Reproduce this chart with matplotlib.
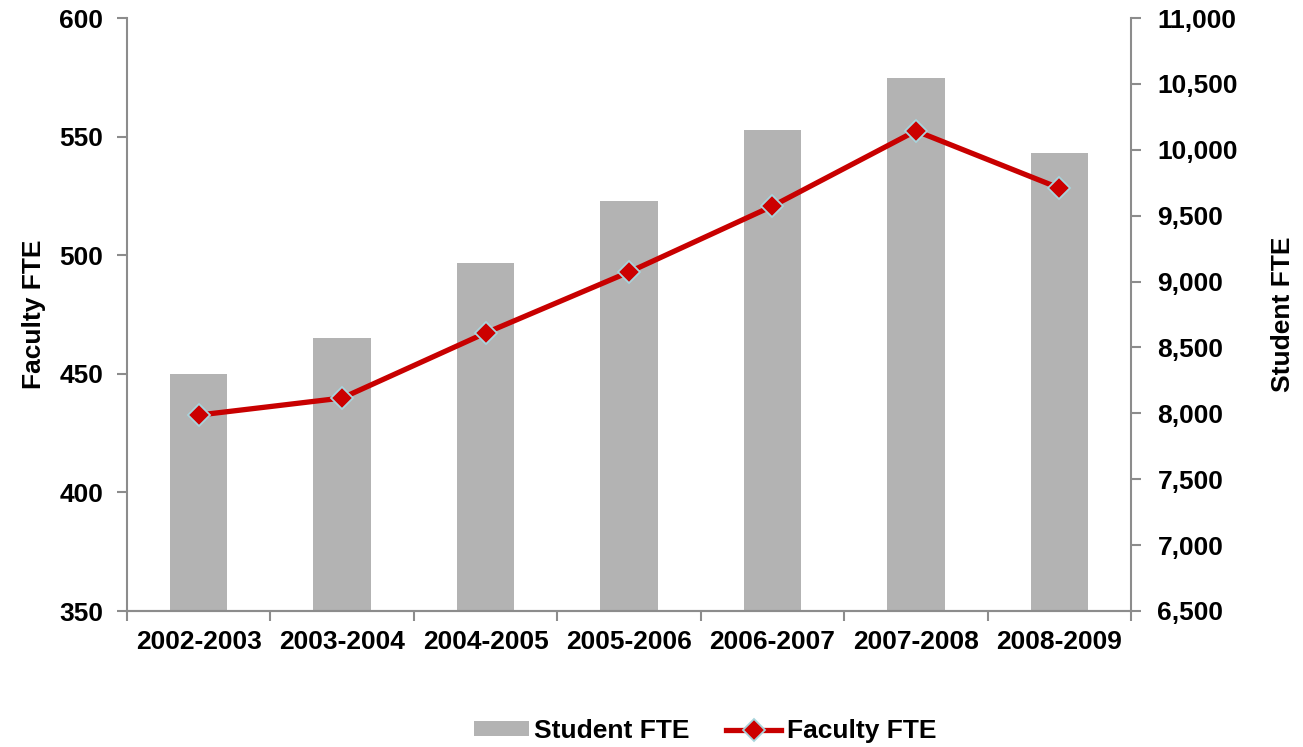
import matplotlib
matplotlib.use("Agg")
import matplotlib.pyplot as plt
from matplotlib.ticker import FuncFormatter, FixedLocator
from matplotlib.patches import Patch
from matplotlib.lines import Line2D

years = ["2002-2003", "2003-2004", "2004-2005", "2005-2006",
         "2006-2007", "2007-2008", "2008-2009"]
student_fte = [8300, 8570, 9140, 9610, 10150, 10545, 9975]
faculty_fte = [432.6, 439.8, 467.2, 492.9, 520.7, 552.4, 528.3]

plt.rcParams['font.family'] = ['Liberation Sans', 'DejaVu Sans']
plt.rcParams['font.weight'] = 'bold'
FS = 19
LFS = 19

fig = plt.figure(figsize=(13.03, 7.47), dpi=100)
ax = fig.add_axes([127/1303, 1-611/747, (1131-127)/1303, (611-18)/747])
ax2 = ax.twinx()

x = list(range(len(years)))
spine_c = '#8c8c8c'
line_c = '#c80000'

ax2.bar(x, student_fte, width=0.40, color='#b3b3b3', zorder=2)
ax.plot(x, faculty_fte, color=line_c, lw=3.8, marker='D', markersize=11.5,
        markerfacecolor='#cc0000', markeredgecolor='#a8d4dc', markeredgewidth=1.3,
        zorder=3)

ax.set_zorder(ax2.get_zorder() + 1)
ax.patch.set_visible(False)

ax.set_xlim(-0.5, 6.5)
ax.set_ylim(350, 600)
ax2.set_ylim(6500, 11000)
ax.set_yticks([350, 400, 450, 500, 550, 600])
ax2.set_yticks(list(range(6500, 11001, 500)))
ax2.yaxis.set_major_formatter(FuncFormatter(lambda v, p: f"{int(v):,}"))

ax.set_xticks(x)
ax.set_xticklabels(years)
ax.xaxis.set_minor_locator(FixedLocator([i - 0.5 for i in range(len(years) + 1)]))
ax.tick_params(axis='x', which='major', length=0, pad=14, labelsize=FS)
ax.tick_params(axis='x', which='minor', length=7, color=spine_c, width=1.5)
ax.tick_params(axis='y', length=7, color=spine_c, width=1.5, labelsize=FS, pad=10)
ax2.tick_params(axis='y', length=7, color=spine_c, width=1.5, labelsize=FS, pad=12)
ax2.tick_params(axis='x', length=0)

for a in (ax, ax2):
    a.spines['top'].set_visible(False)
    for s in ('left', 'right', 'bottom'):
        a.spines[s].set_color(spine_c)
        a.spines[s].set_linewidth(1.5)
ax.spines['right'].set_visible(False)
ax2.spines['left'].set_visible(False)

for lab in ax.get_xticklabels() + ax.get_yticklabels() + ax2.get_yticklabels():
    lab.set_fontweight('bold')

ax.set_ylabel("Faculty FTE", fontsize=FS, fontweight='bold', labelpad=10)
ax2.set_ylabel("Student FTE", fontsize=FS, fontweight='bold', labelpad=24)

handles = [Patch(facecolor='#b3b3b3', edgecolor='none'),
           Line2D([0], [0], color=line_c, lw=3.8, marker='D', markersize=11.5,
                  markerfacecolor='#cc0000', markeredgecolor='#a8d4dc', markeredgewidth=1.3)]
fig.legend(handles, ["Student FTE", "Faculty FTE"], loc='center',
           bbox_to_anchor=(0.541, 1 - 731/747), ncol=2, frameon=False,
           prop={'size': LFS, 'weight': 'bold'}, handlelength=2.1, handleheight=0.5,
           columnspacing=1.36, handletextpad=0.2)

fig.savefig("out.png", dpi=100)
